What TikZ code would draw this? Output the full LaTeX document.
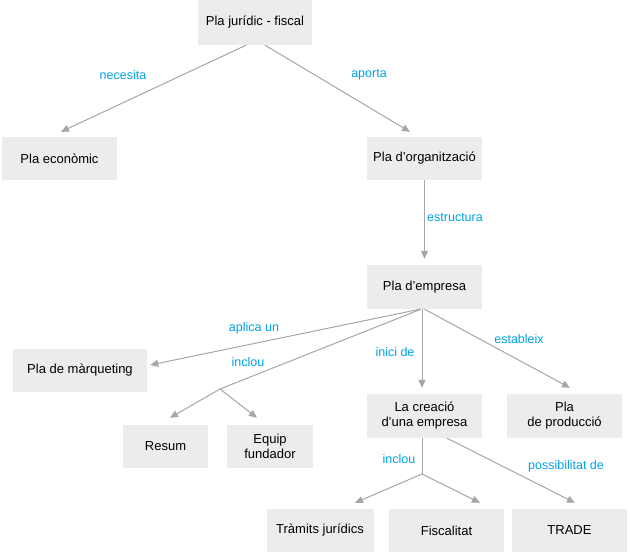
\documentclass[tikz,border=0pt]{standalone}
\usepackage{fontspec}
\setmainfont{Liberation Sans}
\usetikzlibrary{positioning, arrows.meta, calc}
\definecolor{boxgray}{RGB}{236,236,236}
\definecolor{linegray}{RGB}{166,166,166}
\definecolor{lblblue}{RGB}{0,162,232}
\newcommand{\apos}{\char"0027}

\begin{document}
\begin{tikzpicture}[x=1pt, y=-1pt,
		box/.style={fill=boxgray, inner sep=0pt, minimum width=115pt, minimum height=43pt, align=center, font=\fontsize{13}{15}\selectfont},
		lbl/.style={text=lblblue, inner sep=0pt, font=\fontsize{12.5}{15}\selectfont},
		conn/.style={draw=linegray, line width=1pt, -{Triangle[length=8pt, width=7pt]}},
		line/.style={draw=linegray, line width=1pt}]
		\useasboundingbox (0,0) rectangle (630,555);
		% Boxes
		\node[box, minimum width=114pt, minimum height=45pt] (jur) at (255,22.5) {Pla jurídic - fiscal};
		\node[box] (eco) at (59.5,158.5) {Pla econòmic};
		\node[box] (org) at (424.5,158.5) {Pla d\apos organització};
		\node[box, minimum height=44pt] (emp) at (424.5,287) {Pla d\apos empresa};
		\node[box, minimum width=134pt] (mkt) at (80,370.5) {Pla de màrqueting};
		\node[box, minimum width=85pt] (res) at (165.5,446.5) {Resum};
		\node[box, minimum width=86pt] (equ) at (270,446.5) {Equip\\fundador};
		\node[box, minimum height=44pt] (cre) at (424.5,416) {La creació\\d\apos una empresa};
		\node[box, minimum height=44pt] (pro) at (564.5,416) {Pla\\de producció};
		\node[box, minimum width=107pt] (tra) at (320,530.5) {Tràmits jurídics};
		\node[box] (fis) at (446.5,530.5) {Fiscalitat};
		\node[box] (trd) at (569.5,530.5) {TRADE};
		
		% Junctions
		\coordinate (j1) at (220,389);
		\coordinate (j2) at (422,474);
		
		% Connectors
		\draw[conn] ([xshift=-9pt]jur.south) -- ($(eco.north)+(1.5,-5)$);
		\draw[conn] ([xshift=10pt]jur.south) -- ($(org.north)+(-14.5,-5)$);
		\draw[conn] (org.south) -- ($(emp.north)+(0,-6)$);
		\draw[conn] ([xshift=-4.5pt]emp.south) -- ($(mkt.east)+(3,-5.5)$);
		\draw[line] ([xshift=-3.5pt]emp.south) -- (j1);
		\draw[conn] (j1) -- ($(res.north)+(4.5,-7)$);
		\draw[conn] (j1) -- ($(equ.north)+(-13,-7)$);
		\draw[conn] ([xshift=-2.5pt]emp.south) -- ($(cre.north)+(-2.5,-6)$);
		\draw[conn] (emp.south) -- ($(pro.north)+(5.5,-6)$);
		\draw[line] ([xshift=-2.5pt]cre.south) -- (j2);
		\draw[conn] (j2) -- ($(tra.north)+(35,-6)$);
		\draw[conn] (j2) -- ($(fis.north)+(33.5,-6)$);
		\draw[conn] ([xshift=22.5pt]cre.south) -- ($(trd.north)+(5.5,-6)$);
		
		% Labels
		\node[lbl] (l1) at (123,75) {necesita};
		\node[lbl] (l2) at (369,75) {aporta};
		\node[lbl] (l3) at (455,218) {estructura};
		\node[lbl] (l4) at (254,328) {aplica un};
		\node[lbl] (l5) at (248,362) {inclou};
		\node[lbl] (l6) at (395,352) {inici de};
		\node[lbl] (l7) at (519,339) {estableix};
		\node[lbl] (l8) at (399,459) {inclou};
		\node[lbl] (l9) at (566,466) {possibilitat de};
\end{tikzpicture}
\end{document}
